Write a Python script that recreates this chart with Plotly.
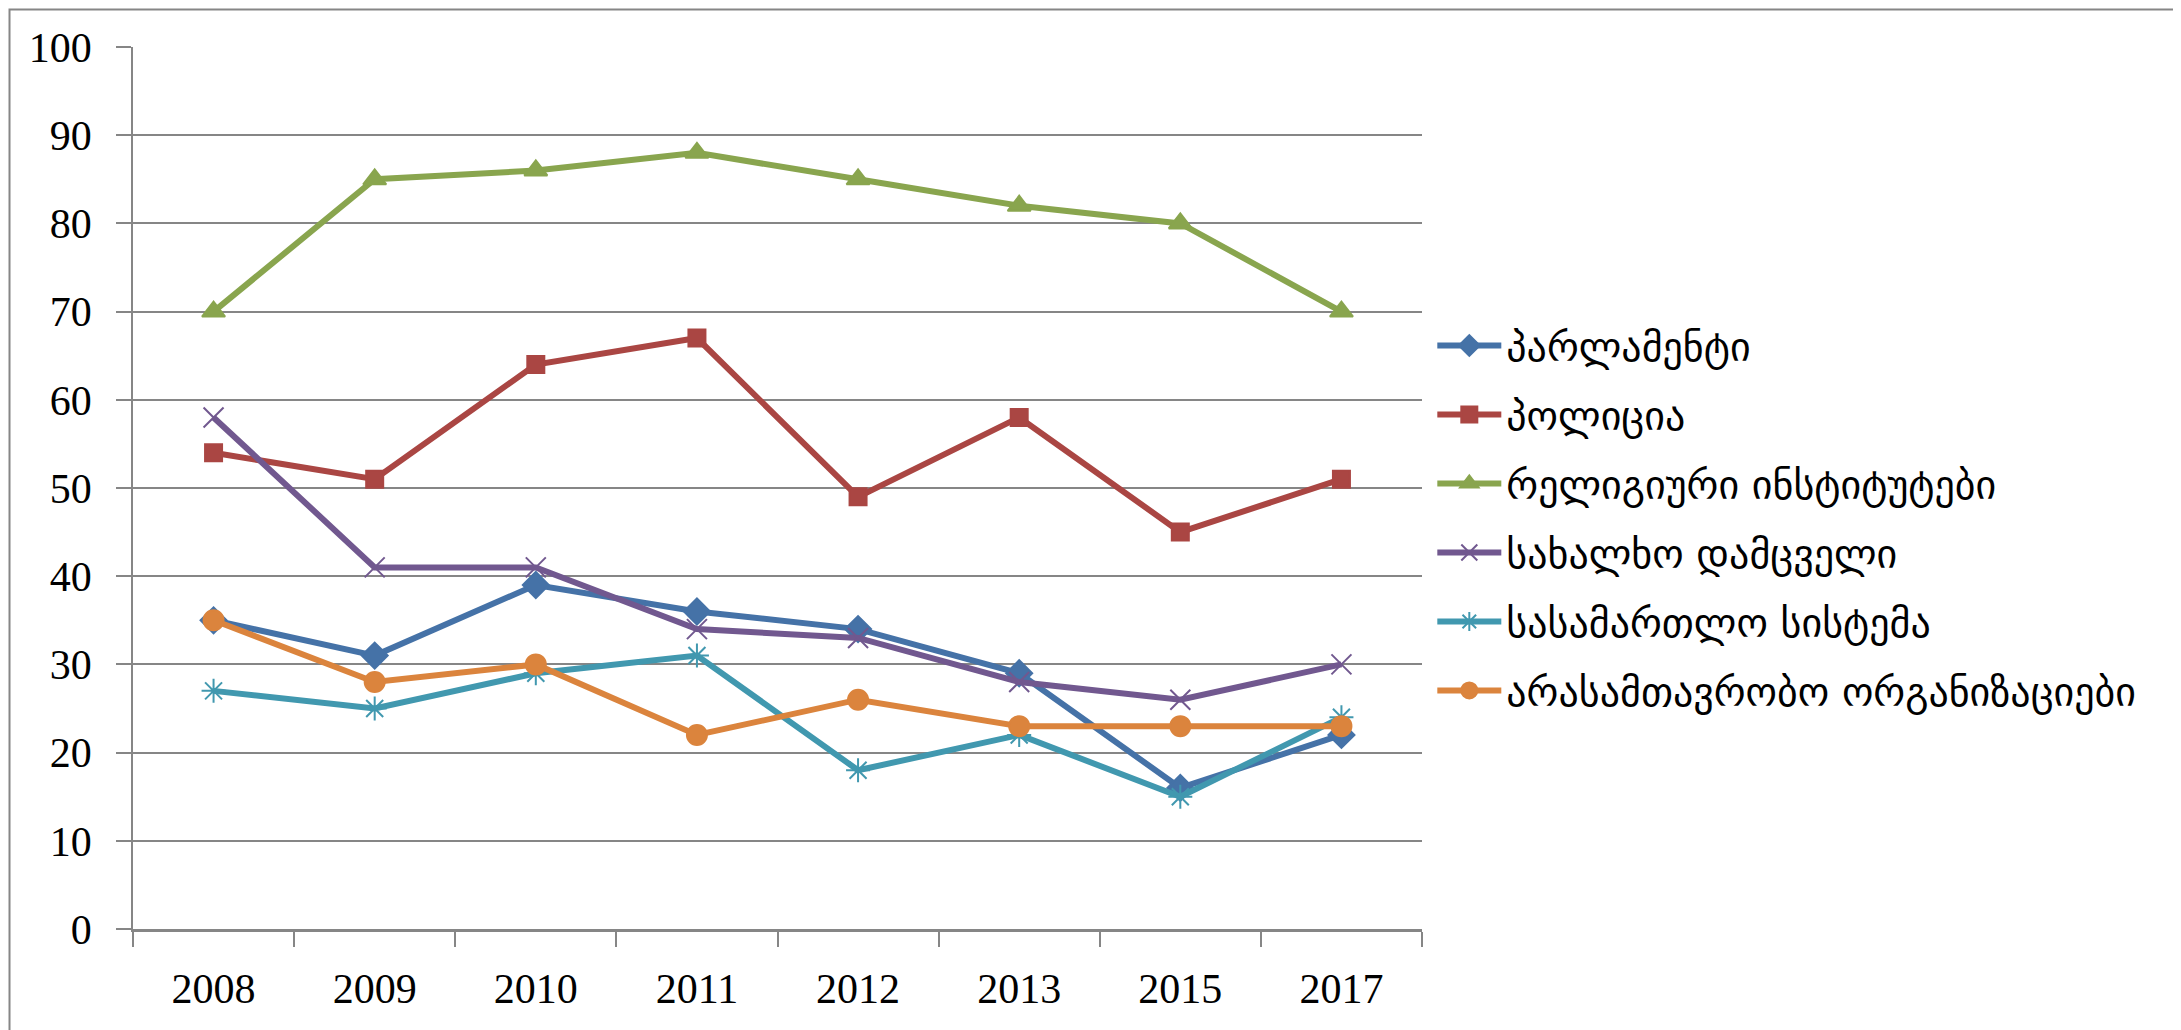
import plotly.graph_objects as go

years = ["2008", "2009", "2010", "2011", "2012", "2013", "2015", "2017"]
parliament = [35, 31, 39, 36, 34, 29, 16, 22]
police = [54, 51, 64, 67, 49, 58, 45, 51]
religious = [70, 85, 86, 88, 85, 82, 80, 70]
ombudsman = [58, 41, 41, 34, 33, 28, 26, 30]
courts = [27, 25, 29, 31, 18, 22, 15, 24]
ngos = [35, 28, 30, 22, 26, 23, 23, 23]

names = ["პარლამენტი", "პოლიცია", "რელიგიური ინსტიტუტები",
         "სახალხო დამცველი", "სასამართლო სისტემა", "არასამთავრობო ორგანიზაციები"]
series = [parliament, police, religious, ombudsman, courts, ngos]
colors = ["#4572A7", "#AA4643", "#89A54E", "#71588F", "#4198AF", "#DB843D"]
symbols = ["diamond", "square", "triangle-up", "x-thin-open", "asterisk-open", "circle"]
sizes = [20, 17, 20, 20, 20, 20]

fig = go.Figure()
for i, (n, s, c, sym, sz) in enumerate(zip(names, series, colors, symbols, sizes)):
    fig.add_trace(go.Scatter(
        x=years, y=s, name=n, mode="lines+markers", legendgroup=f"g{i}",
        line=dict(color=c, width=6),
        marker=dict(symbol=sym, size=sz, color=c, line=dict(color=c, width=2)),
    ))

fig.update_layout(
    width=2181, height=1030,
    margin=dict(l=125, r=767, t=39, b=109),
    paper_bgcolor="white", plot_bgcolor="white",
    showlegend=True,
    legend=dict(x=1.008, xanchor="left", y=0.466, yanchor="middle",
                font=dict(family="DejaVu Sans", size=40, color="black"),
                itemwidth=64, tracegroupgap=14, bgcolor="rgba(0,0,0,0)"),
    font=dict(family="Liberation Serif", color="black"),
)
fig.update_xaxes(
    type="category", range=[-0.5, 7.5], tickson="boundaries",
    ticks="outside", ticklen=15, tickcolor="#868686", tickwidth=1.5,
    showline=True, linecolor="#868686", linewidth=2.5,
    showgrid=False, tickfont=dict(family="Liberation Serif", size=42, color="black"),
    ticklabelstandoff=21,
)
fig.update_yaxes(
    range=[0, 100], dtick=10, tick0=0,
    ticks="outside", ticklen=15, tickcolor="#868686", tickwidth=1.5,
    showline=True, linecolor="#868686", linewidth=1.5,
    showgrid=True, gridcolor="#868686", gridwidth=1.5, zeroline=False,
    tickfont=dict(family="Liberation Serif", size=42, color="black"),
    ticklabelstandoff=16,
)
fig.add_shape(type="rect", xref="paper", yref="paper",
              x0=-0.0958, y0=-0.3, x1=1.8, y1=1.0425,
              line=dict(color="#868686", width=2), fillcolor="rgba(0,0,0,0)", layer="below")

fig.write_html("out.html")
